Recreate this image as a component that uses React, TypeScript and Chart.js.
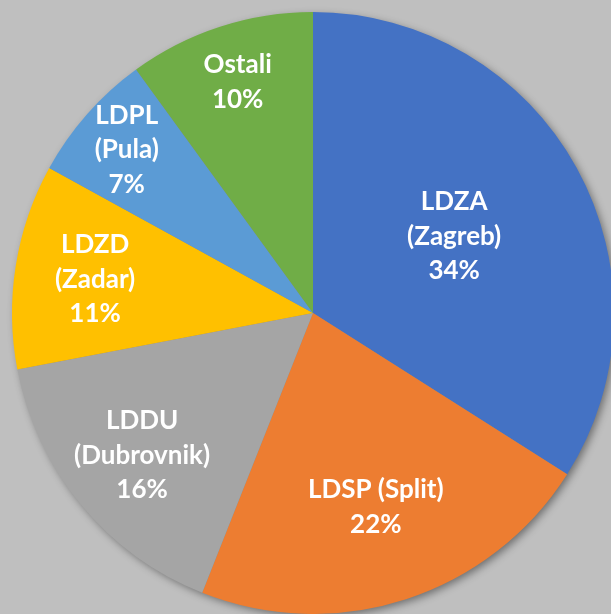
import React, { useEffect, useRef } from "react";
import { Chart, registerables } from "chart.js";

Chart.register(...registerables);

// ---- data ----
const categories = [
  "LDZA\n(Zagreb)",
  "LDSP (Split)",
  "LDDU\n(Dubrovnik)",
  "LDZD\n(Zadar)",
  "LDPL\n(Pula)",
  "Ostali",
];
const shares = [34, 22, 16, 11, 7, 10];

// ---- style ----
const sliceColors = ["#4472C4", "#ED7D31", "#A5A5A5", "#FFC000", "#5B9BD5", "#70AD47"];
const labelRadialFraction = [0.535, 0.675, 0.737, 0.733, 0.825, 0.81];
const BG = "#BFBFBF";
const FONT_SIZE = 26;
const LINE_H = 34.5;
const FONT = `bold ${FONT_SIZE}px Lato, "Open Sans", sans-serif`;

const shadowPlugin = {
  id: "pieShadow",
  beforeDatasetsDraw(chart: any) {
    const meta = chart.getDatasetMeta(0);
    const arc = meta.data[0];
    if (!arc) return;
    const { x, y, outerRadius } = arc.getProps(["x", "y", "outerRadius"], true);
    const ctx = chart.ctx;
    ctx.save();
    ctx.shadowColor = "rgba(0,0,0,0.45)";
    ctx.shadowBlur = 9;
    ctx.shadowOffsetX = 3;
    ctx.shadowOffsetY = 3;
    ctx.fillStyle = "#888";
    ctx.beginPath();
    ctx.arc(x, y, outerRadius - 1, 0, Math.PI * 2);
    ctx.fill();
    ctx.restore();
  },
};

const labelPlugin = {
  id: "sliceLabels",
  afterDatasetsDraw(chart: any) {
    const meta = chart.getDatasetMeta(0);
    const ctx = chart.ctx;
    const values: number[] = chart.data.datasets[0].data;
    const total = values.reduce((a, b) => a + b, 0);
    ctx.save();
    ctx.font = FONT;
    ctx.fillStyle = "#FFFFFF";
    ctx.textAlign = "center";
    ctx.textBaseline = "alphabetic";
    meta.data.forEach((arc: any, i: number) => {
      const { x, y, startAngle, endAngle, outerRadius } = arc.getProps(
        ["x", "y", "startAngle", "endAngle", "outerRadius"],
        true
      );
      const mid = (startAngle + endAngle) / 2;
      const r = outerRadius * labelRadialFraction[i];
      const cx = x + Math.cos(mid) * r;
      const cy = y + Math.sin(mid) * r;
      const pct = Math.round((values[i] / total) * 100) + "%";
      const lines = [...String(chart.data.labels[i]).split("\n"), pct];
      const n = lines.length;
      const capH = FONT_SIZE * 0.72;
      lines.forEach((ln, k) => {
        const by = cy - ((n - 1) * LINE_H) / 2 + k * LINE_H + capH / 2;
        ctx.fillText(ln, cx, by);
      });
    });
    ctx.restore();
  },
};

export default function App() {
  const ref = useRef<HTMLCanvasElement>(null);
  useEffect(() => {
    document.body.style.margin = "0";
    const chart = new Chart(ref.current!, {
      type: "pie",
      data: {
        labels: categories,
        datasets: [
          {
            data: shares,
            backgroundColor: sliceColors,
            borderWidth: 0,
            radius: 301,
          },
        ],
      },
      options: {
        animation: false,
        responsive: false,
        maintainAspectRatio: false,
        layout: { padding: { left: 15, right: 0, top: 12, bottom: 0 } },
        plugins: {
          legend: { display: false },
          tooltip: { enabled: false },
        },
      },
      plugins: [shadowPlugin, labelPlugin],
    });
    return () => chart.destroy();
  }, []);
  return (
    <div style={{ position: "fixed", left: 0, top: 0, width: 611, height: 614, background: BG }}>
      <canvas ref={ref} width={611} height={614} style={{ display: "block" }} />
    </div>
  );
}
